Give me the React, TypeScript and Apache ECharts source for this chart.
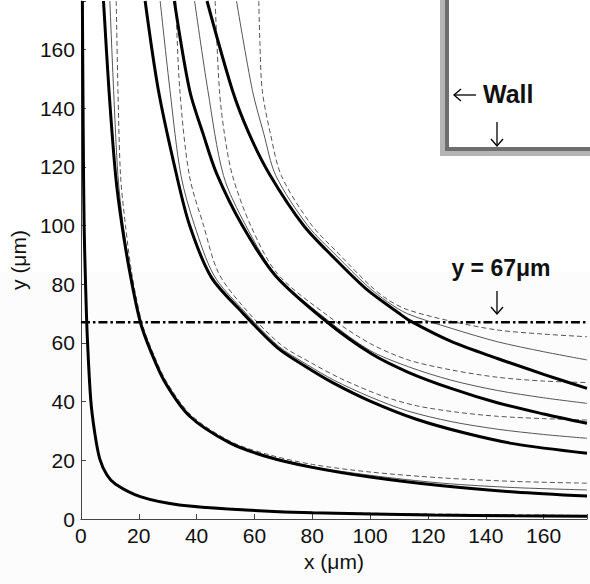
import React, { useEffect, useRef } from "react";
import * as echarts from "echarts";

// ---- tick labels ----
const xTickLabels = [0, 20, 40, 60, 80, 100, 120, 140, 160];
const yTickLabels = [0, 20, 40, 60, 80, 100, 120, 140, 160];
const referenceY = 67;

// ---- streamline family 1 (near the wall) ----
const c1Thick: number[][] = [[0.5, 176.5], [0.8, 130], [1.1, 100], [1.6, 80], [2.2, 62], [3.4, 40.5], [4.8, 29.2], [6.5, 20.5], [9, 15], [12, 11.8], [20.5, 7.6], [34, 4.8], [57, 3.1], [80, 2.1], [121, 1.4], [150, 1.1], [175, 0.9]];
const c1Thin: number[][] = [[0.5, 176.5], [0.8, 130], [1.1, 100], [1.6, 80], [2.2, 62], [3.4, 40.5], [4.8, 29.2], [6.5, 20.5], [9, 15], [12, 11.8], [20.5, 7.6], [34, 4.8], [57, 3.1], [80, 2.1], [121, 1.5], [150, 1.2], [175, 1.0]];
const c1Dash: number[][] = [[0.5, 176.5], [0.8, 130], [1.1, 100], [1.6, 80], [2.2, 62], [3.4, 40.5], [4.8, 29.2], [6.5, 20.5], [9, 15], [12, 11.8], [20.5, 7.7], [34, 4.9], [57, 3.2], [80, 2.3], [121, 1.7], [150, 1.4], [175, 1.2]];

// ---- family 2 ----
const c2Thick: number[][] = [[7.8, 176.5], [9.7, 146], [12, 117], [14.2, 100], [17.1, 83], [20.5, 67.2], [24.2, 57], [29.1, 46.5], [37.6, 35], [51.3, 26], [63.8, 21.4], [80, 17.6], [100, 14.3], [125, 11.3], [150, 9.2], [175, 7.8]];
const c2Thin: number[][] = [[10, 176.5], [11.3, 146], [12.8, 117], [14.6, 100], [17.4, 83], [20.8, 67.2], [24.5, 57.2], [29.4, 46.7], [37.9, 35.2], [51.6, 26.2], [64, 21.6], [80, 17.9], [100, 14.9], [125, 12.2], [150, 10.7], [175, 9.9]];
const c2Dash: number[][] = [[12.2, 176.5], [12.8, 146], [13.7, 117], [15.4, 100], [17.7, 83], [21, 67.2], [24.6, 57.4], [29.6, 46.8], [38.2, 35.3], [52, 26.3], [65, 21.9], [80, 18.6], [100, 16], [125, 14], [150, 12.8], [175, 12.2]];

// ---- family 3 ----
const c3Thick: number[][] = [[22.2, 176.5], [26.8, 146], [33, 117.5], [37.6, 100], [45, 82.5], [55, 71.2], [67.8, 58.5], [77.8, 51.9], [87.2, 46.4], [100, 40.2], [116, 34], [132.8, 29.3], [150, 25.6], [175, 22.4]];
const c3Thin: number[][] = [[27.4, 176.5], [30.8, 146], [34.6, 117], [39.3, 100], [46, 83], [55.5, 71.8], [68.2, 59], [78.2, 52.6], [87.5, 47.3], [100, 41.6], [113, 36.8], [128, 33.2], [144, 30.6], [160, 28.8], [175, 27.5]];
const c3Dash: number[][] = [[32.8, 176.5], [34.2, 146], [37.5, 117], [42.4, 100], [47.5, 84], [56, 72.5], [69, 59.5], [80, 53], [90, 47.8], [104, 42], [116, 38.6], [130, 36.4], [144, 35], [160, 34.2], [175, 33.7]];

// ---- family 4 ----
const c4Thick: number[][] = [[32.3, 176.5], [37.6, 146], [42.2, 131.4], [47, 117.5], [55.8, 100], [67.2, 83], [85, 67.2], [100.6, 56.2], [113.2, 50], [128, 44.5], [144, 39.6], [160, 35.8], [175, 32.6]];
const c4Thin: number[][] = [[39.3, 176.5], [43.9, 146], [49.3, 117], [57, 100], [67.6, 83], [85.5, 67.6], [100, 57.4], [113.2, 51.9], [128, 47.3], [144, 43.8], [160, 41.3], [175, 39.4]];
const c4Dash: number[][] = [[46.4, 176.5], [47.9, 146], [49.6, 131.4], [52.4, 117], [58.7, 100], [68, 83.5], [86, 68.8], [100, 59.8], [113.2, 54.2], [128, 50.8], [144, 48.3], [160, 47], [175, 46.5]];

// ---- family 5 ----
const c5Thick: number[][] = [[43.6, 176.5], [52.4, 146], [58.1, 131.4], [65.2, 117.5], [77, 100], [87.5, 89], [98.4, 78.6], [110, 70.1], [114, 67.4], [128, 60.5], [144, 54.7], [160, 49.3], [175, 44.5]];
const c5Thin: number[][] = [[53.8, 176.5], [59.3, 146], [63.2, 131.4], [67.4, 117], [78.4, 100], [88.5, 89.6], [99, 79.4], [106, 74], [113, 69.9], [128, 65], [144, 60.4], [160, 57], [175, 54.2]];
const c5Dash: number[][] = [[61.5, 176.5], [61.9, 162], [62.7, 146], [65.5, 131.4], [69.3, 117], [79.5, 100.5], [89, 90.5], [99.5, 80], [106, 74.8], [113, 71.3], [128, 67.4], [144, 64.4], [160, 63], [175, 62.1]];

const FONT = "'Liberation Sans', Arial, sans-serif";

export default function App() {
  const ref = useRef<HTMLDivElement>(null);

  useEffect(() => {
    const chart = echarts.init(ref.current!, null, { renderer: "svg" });

    const base = (name: string, data: number[][]) => ({
      type: "line",
      name,
      data,
      showSymbol: false,
      symbol: "none",
      smooth: 0.3,
      silent: true,
      clip: true,
    });
    const thick = (name: string, data: number[][]) => ({
      ...base(name, data),
      z: 5,
      lineStyle: { color: "#000", width: 3 },
    });
    const thin = (name: string, data: number[][]) => ({
      ...base(name, data),
      z: 3,
      lineStyle: { color: "#555", width: 1 },
    });
    const dash = (name: string, data: number[][]) => ({
      ...base(name, data),
      z: 3,
      lineStyle: { color: "#555", width: 1, type: [5, 3] },
    });

    const series: any[] = [
      thin("c1Thin", c1Thin), dash("c1Dash", c1Dash),
      thin("c2Thin", c2Thin), dash("c2Dash", c2Dash),
      thin("c3Thin", c3Thin), dash("c3Dash", c3Dash),
      thin("c4Thin", c4Thin), dash("c4Dash", c4Dash),
      thin("c5Thin", c5Thin), dash("c5Dash", c5Dash),
      thick("c1Thick", c1Thick), thick("c2Thick", c2Thick), thick("c3Thick", c3Thick),
      thick("c4Thick", c4Thick), thick("c5Thick", c5Thick),
      {
        type: "line",
        name: "y67",
        data: [[0, referenceY], [175, referenceY]],
        showSymbol: false,
        symbol: "none",
        silent: true,
        z: 6,
        lineStyle: { color: "#000", width: 2.5, type: [9, 3, 2.5, 3] },
      },
    ];

    const arrowStyle = { stroke: "#000", lineWidth: 1.3, fill: "none" };

    chart.setOption({
      animation: false,
      grid: { left: 79, top: 1, width: 512, height: 518, containLabel: false },
      xAxis: {
        type: "value",
        min: 0,
        max: 175,
        interval: 20,
        name: "x (μm)",
        nameLocation: "middle",
        nameGap: 32,
        nameTextStyle: { fontSize: 21, color: "#111", fontFamily: FONT },
        axisLine: { onZero: false, lineStyle: { color: "#444", width: 1 } },
        axisTick: { inside: true, length: 5, lineStyle: { color: "#444" } },
        axisLabel: {
          fontSize: 21,
          color: "#111",
          fontFamily: FONT,
          margin: 6,
          formatter: (v: number) => (xTickLabels.includes(v) ? String(v) : ""),
        },
        splitLine: { show: false },
      },
      yAxis: {
        type: "value",
        min: 0,
        max: 176.5,
        interval: 20,
        name: "y (μm)",
        nameLocation: "middle",
        nameGap: 46,
        nameTextStyle: { fontSize: 21, color: "#111", fontFamily: FONT },
        axisLine: { onZero: false, lineStyle: { color: "#444", width: 1 } },
        axisTick: { inside: true, length: 5, lineStyle: { color: "#444" } },
        axisLabel: {
          fontSize: 21,
          color: "#111",
          fontFamily: FONT,
          margin: 6,
          formatter: (v: number) => (yTickLabels.includes(v) ? String(v) : ""),
        },
        splitLine: { show: false },
      },
      series,
      graphic: [
        // wall inset
        {
          type: "polyline",
          z: 10,
          shape: { points: [[443, 0], [443, 153], [592, 153]] },
          style: { stroke: "#b4b4b4", lineWidth: 6, fill: "none" },
        },
        {
          type: "polyline",
          z: 11,
          shape: { points: [[447, 0], [447, 149], [592, 149]] },
          style: { stroke: "#6e6e6e", lineWidth: 4, fill: "none" },
        },
        // left arrow
        {
          type: "polyline",
          z: 12,
          shape: { points: [[476, 95], [454, 95]] },
          style: arrowStyle,
        },
        {
          type: "polyline",
          z: 12,
          shape: { points: [[461, 89], [454, 95], [461, 101]] },
          style: arrowStyle,
        },
        {
          type: "text",
          z: 12,
          style: {
            text: "Wall",
            x: 483,
            y: 94,
            fontSize: 25,
            fontWeight: "bold",
            fontFamily: FONT,
            fill: "#111",
            verticalAlign: "middle",
            align: "left",
          },
        },
        // down arrow to wall
        {
          type: "polyline",
          z: 12,
          shape: { points: [[497, 122], [497, 146]] },
          style: arrowStyle,
        },
        {
          type: "polyline",
          z: 12,
          shape: { points: [[491, 139], [497, 146], [503, 139]] },
          style: arrowStyle,
        },
        // y = 67 label
        {
          type: "text",
          z: 12,
          style: {
            text: "y = 67μm",
            x: 501,
            y: 268,
            fontSize: 23,
            fontWeight: "bold",
            fontFamily: FONT,
            fill: "#111",
            verticalAlign: "middle",
            align: "center",
          },
        },
        {
          type: "polyline",
          z: 12,
          shape: { points: [[497, 291], [497, 314]] },
          style: arrowStyle,
        },
        {
          type: "polyline",
          z: 12,
          shape: { points: [[491, 307], [497, 314], [503, 307]] },
          style: arrowStyle,
        },
      ],
    });

    return () => chart.dispose();
  }, []);

  return (
    <div
      ref={ref}
      style={{
        position: "fixed",
        left: 0,
        top: 0,
        width: 590,
        height: 584,
        background: "linear-gradient(#ffffff 0px, #ffffff 272px, #fcfcfc 272px, #fcfcfc 584px)",
      }}
    />
  );
}
